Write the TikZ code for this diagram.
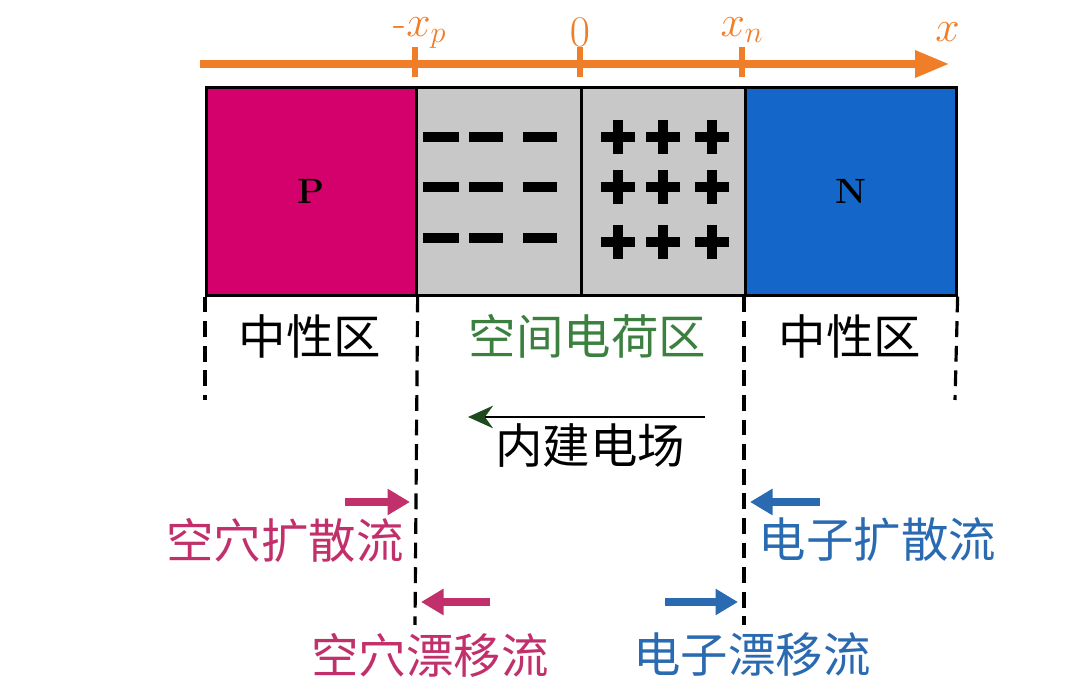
\documentclass[tikz,border=0pt]{standalone}
\usepackage{fontspec}
\newfontfamily\cjk{Noto Sans CJK SC}
\usetikzlibrary{arrows.meta,positioning}
\definecolor{Axis}{HTML}{F07D28}
\definecolor{Pside}{HTML}{D4006C}
\definecolor{Nside}{HTML}{1467C8}
\definecolor{Depl}{HTML}{C8C8C8}
\definecolor{Field}{HTML}{1E4A1E}
\definecolor{Scr}{HTML}{3C8040}
\definecolor{Hole}{HTML}{C2306C}
\definecolor{Elec}{HTML}{2A6AB0}

\begin{document}
\begin{tikzpicture}[
  axis/.style={-{Triangle[length=7mm,width=5mm]},line width=5pt,draw=Axis},
  tick/.style={line width=3pt,draw=Axis},
  ticklab/.style={text=Axis,font=\fontsize{24}{28}\selectfont,inner sep=1pt},
  region/.style={draw=black,line width=1.5pt,minimum height=4.16cm,inner sep=0pt,
    anchor=north west,font=\bfseries\fontsize{20}{24}\selectfont},
  guide/.style={line width=1.8pt,dash pattern=on 9pt off 5pt},
  zone/.style={font=\cjk\fontsize{27}{32}\selectfont,inner sep=1pt},
  flow/.style={-{Triangle[length=4.5mm,width=5mm]},line width=4pt},
  fieldarrow/.style={-{Stealth[length=5mm,width=4.5mm,color=Field]},line width=1.6pt,draw=black},
  charge/.style={line width=5.5pt,draw=black}]
\useasboundingbox (0,0) rectangle (21.6,13.84);
% x axis
\coordinate (axstart) at (4.0,12.56);
\coordinate (axend) at (19.0,12.56);
\draw[axis] (axstart) -- (axend);
\foreach \x/\name in {8.3/xp,11.6/zero,14.84/xn}
  \draw[tick] (\x,12.9) coordinate (\name) -- (\x,12.3);
\node[ticklab] (lxp) at (8.4,13.18) {-$x_p$};
\node[ticklab] (lzero) at (11.6,13.2) {$0$};
\node[ticklab] (lxn) at (14.84,13.24) {$x_n$};
\node[ticklab] (lx) at (18.95,13.2) {$x$};
% regions
\node[region,fill=Pside,minimum width=4.2cm] (pside) at (4.1,12.12) {P};
\node[region,fill=Depl,minimum width=3.3cm] (neg) at (8.3,12.12) {};
\node[region,fill=Depl,minimum width=3.28cm] (pos) at (11.6,12.12) {};
\node[region,fill=Nside,minimum width=4.22cm] (nside) at (14.88,12.12) {N};
% charges
\foreach \y in {11.1,10.1,9.08}{
  \draw[charge] (8.46,\y) -- (9.18,\y);
  \draw[charge] (9.38,\y) -- (10.06,\y);
  \draw[charge] (10.46,\y) -- (11.14,\y);}
\foreach \y in {11.1,10.1,9.0}
  \foreach \x in {12.36,13.26,14.24}{
    \draw[charge] (\x-0.34,\y) -- (\x+0.34,\y);
    \draw[charge] (\x,\y-0.34) -- (\x,\y+0.34);}
% guide lines
\coordinate (gpl) at (4.1,5.84);
\coordinate (gxp) at (8.3,1.34);
\coordinate (gxn) at (14.88,1.34);
\coordinate (gnr) at (19.1,5.84);
\draw[guide] (pside.south west) -- (gpl);
\draw[guide] (pside.south east) -- (gxp);
\draw[guide] (nside.south west) -- (gxn);
\draw[guide] (nside.south east) -- (gnr);
% zone labels
\node[zone] (neutp) at (6.2,7.12) {中性区};
\node[zone,text=Scr] (scr) at (11.75,7.12) {空间电荷区};
\node[zone] (neutn) at (17.0,7.12) {中性区};
% built-in field
\coordinate (fstart) at (14.1,5.5);
\coordinate (fend) at (9.36,5.5);
\draw[fieldarrow] (fstart) -- (fend);
\node[zone] (field) at (11.8,4.92) {内建电场};
% currents
\coordinate (hds) at (6.9,3.8);
\coordinate (hde) at (8.2,3.8);
\coordinate (eds) at (16.4,3.8);
\coordinate (ede) at (15.0,3.8);
\coordinate (hrs) at (9.8,1.8);
\coordinate (hre) at (8.42,1.8);
\coordinate (ers) at (13.3,1.8);
\coordinate (ere) at (14.76,1.8);
\draw[flow,draw=Hole] (hds) -- (hde);
\draw[flow,draw=Elec] (eds) -- (ede);
\draw[flow,draw=Hole] (hrs) -- (hre);
\draw[flow,draw=Elec] (ers) -- (ere);
\node[zone,text=Hole] (holediff) at (5.7,3.04) {空穴扩散流};
\node[zone,text=Elec] (elecdiff) at (17.55,3.04) {电子扩散流};
\node[zone,text=Hole] (holedrift) at (8.6,0.74) {空穴漂移流};
\node[zone,text=Elec] (elecdrift) at (15.04,0.74) {电子漂移流};
\end{tikzpicture}
\end{document}
